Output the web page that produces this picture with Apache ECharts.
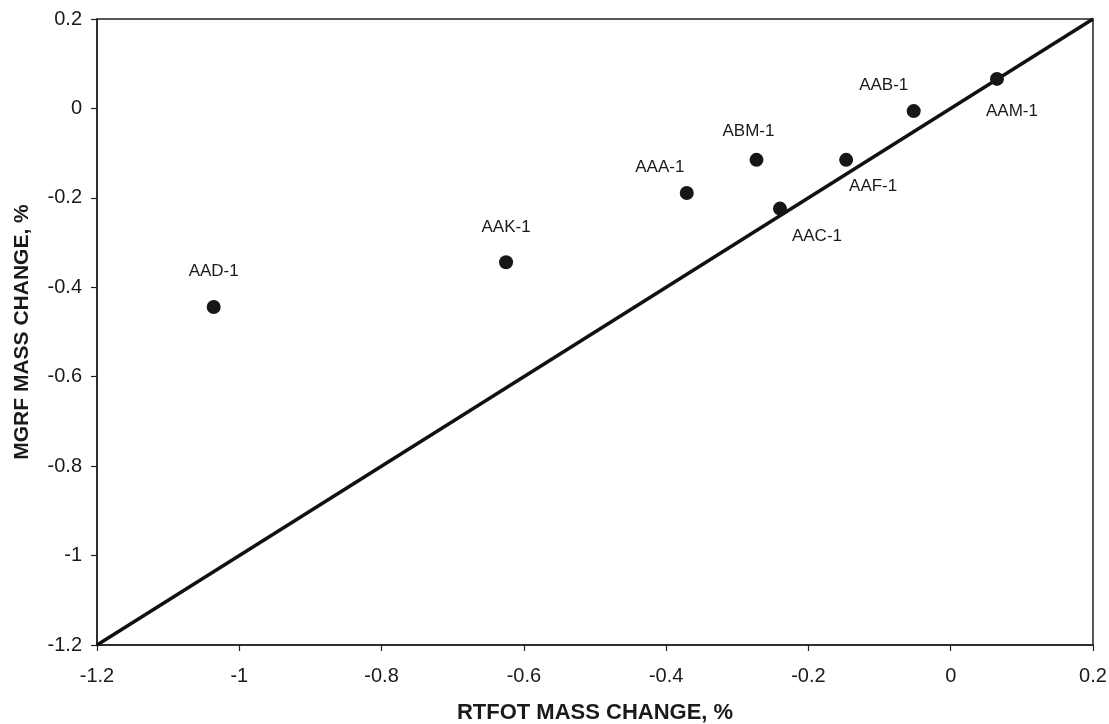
<!DOCTYPE html>
<html>
<head>
<meta charset="utf-8">
<script src="https://cdn.jsdelivr.net/npm/echarts@6/dist/echarts.min.js"></script>
<style>html,body{margin:0;padding:0;background:#fff}#c{width:1109px;height:724px}</style>
</head>
<body>
<div id="c"></div>
<script>
var names = ['AAD-1','AAK-1','AAA-1','ABM-1','AAC-1','AAF-1','AAB-1','AAM-1'];
var rtfot = [-1.036,-0.625,-0.371,-0.273,-0.240,-0.147,-0.052,0.065];
var mgrf  = [-0.444,-0.344,-0.189,-0.115,-0.224,-0.115,-0.006,0.066];
var equalityLine = [[-1.2,-1.2],[0.2,0.2]];
var xTicks = [-1.2,-1,-0.8,-0.6,-0.4,-0.2,0,0.2];
var yTicks = [-1.2,-1,-0.8,-0.6,-0.4,-0.2,0,0.2];

var labelOffsets = [[0,-36],[0,-35],[-27,-26],[-8,-29],[37,28],[27,26],[-30,-26],[15,32]];

var pts = names.map(function(n,i){
  return {value:[rtfot[i], mgrf[i]], name:n,
    label:{show:true, formatter:n, position:'inside', offset:labelOffsets[i]}};
});
var font = 'Liberation Sans, Arial, sans-serif';
var chart = echarts.init(document.getElementById('c'));
chart.setOption({
  backgroundColor:'#fff',
  animation:false,
  grid:{left:97,right:16,top:19,bottom:79,show:true,borderColor:'#222',borderWidth:1.5,
    containLabel:false,outerBoundsMode:'none'},
  xAxis:{type:'value',min:-1.2,max:0.2,interval:0.2,
    name:'RTFOT MASS CHANGE, %',nameLocation:'middle',nameGap:57,
    nameTextStyle:{fontFamily:font,fontWeight:'bold',fontSize:22,color:'#1a1a1a'},
    axisLine:{show:true,onZero:false,lineStyle:{color:'#222',width:1.5}},
    axisTick:{show:true,length:6,lineStyle:{color:'#222',width:1.2}},
    axisLabel:{fontFamily:font,fontSize:20,color:'#1a1a1a',margin:21,
      formatter:function(v){var r=Math.round(v*10)/10; return xTicks.indexOf(r)>=0?String(r):'';}},
    splitLine:{show:false}},
  yAxis:{type:'value',min:-1.2,max:0.2,interval:0.2,
    name:'MGRF MASS CHANGE, %',nameLocation:'middle',nameGap:64,
    nameTextStyle:{fontFamily:font,fontWeight:'bold',fontSize:21,color:'#1a1a1a'},
    axisLine:{show:true,onZero:false,lineStyle:{color:'#222',width:1.5}},
    axisTick:{show:true,length:6,lineStyle:{color:'#222',width:1.2}},
    axisLabel:{fontFamily:font,fontSize:20,color:'#1a1a1a',margin:15,
      formatter:function(v){var r=Math.round(v*10)/10; return yTicks.indexOf(r)>=0?String(r):'';}},
    splitLine:{show:false}},
  series:[
    {type:'line',data:equalityLine,symbol:'none',lineStyle:{color:'#111',width:3.5},z:2,silent:true},
    {type:'scatter',data:pts,symbol:'circle',symbolSize:14,itemStyle:{color:'#161616',opacity:1},z:3,
      label:{show:true,color:'#1a1a1a',fontFamily:font,fontSize:17}}
  ]
});
</script>
</body>
</html>
